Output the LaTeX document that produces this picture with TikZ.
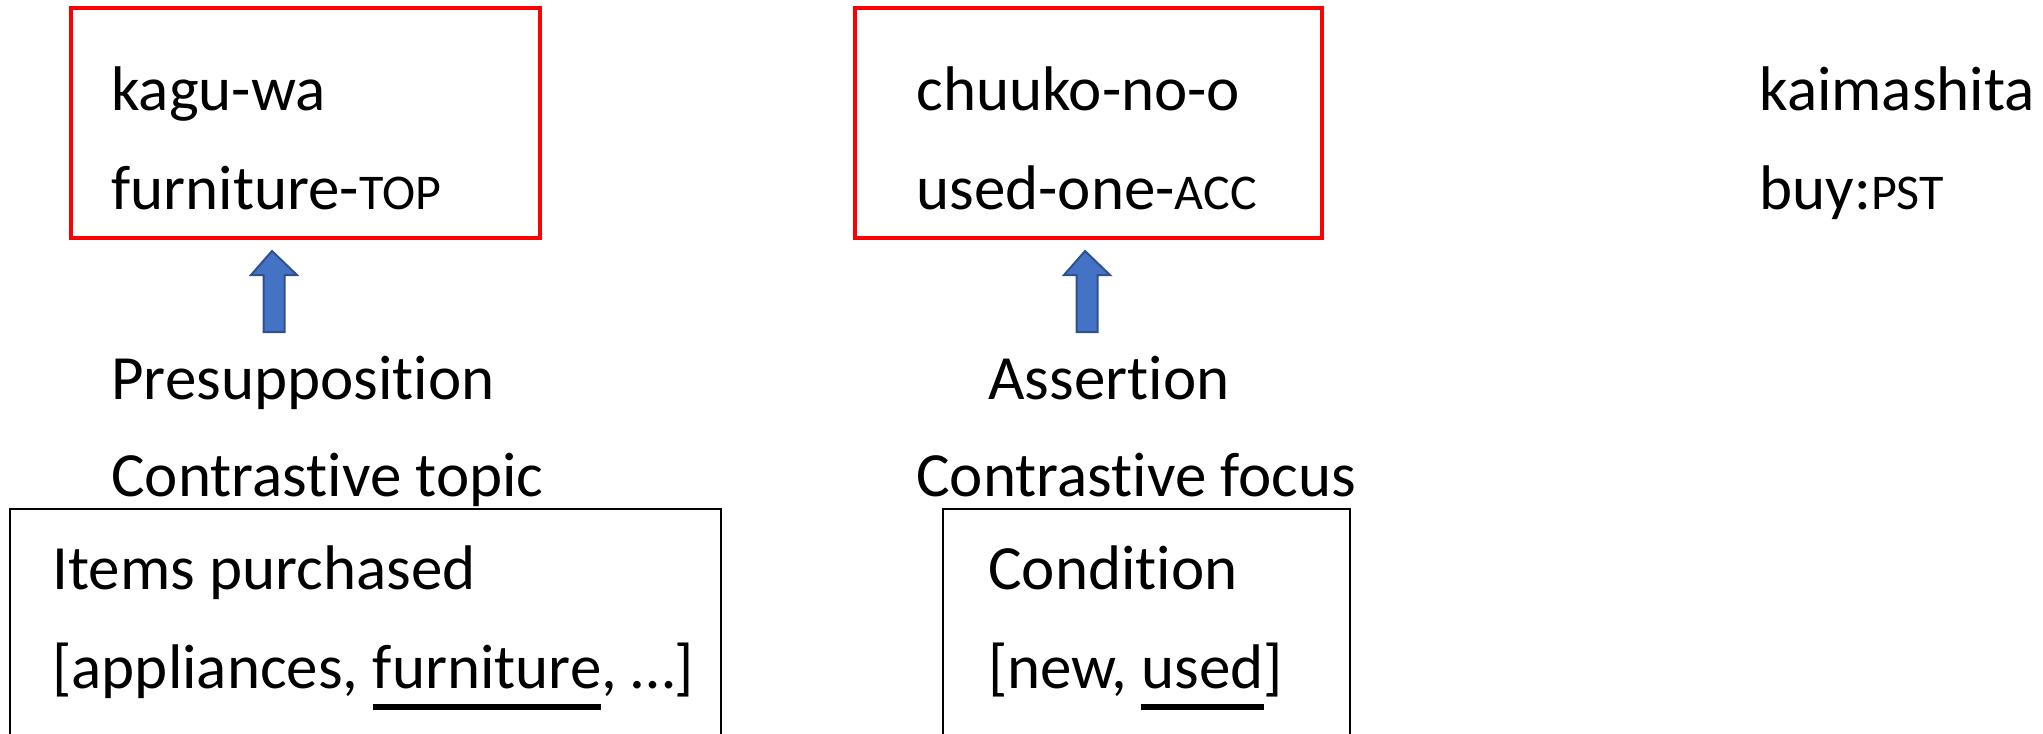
\documentclass[tikz,border=0pt]{standalone}
\usepackage{fontspec}
\setmainfont[Ligatures=NoCommon]{Carlito}
\definecolor{boxred}{RGB}{255,0,0}
\definecolor{arrowfill}{RGB}{68,114,196}
\definecolor{arrowedge}{RGB}{47,82,143}
% thick underline used to mark the chosen alternative
\newcommand{\pickul}[1]{\setbox0\hbox{#1}\rlap{\rule[-11pt]{\wd0}{3pt}}\box0}
% small capitals for glosses
\newcommand{\gl}[1]{{\fontsize{25}{30}\selectfont #1}}
\tikzset{
  txt/.style={anchor=base west, inner sep=0pt, font=\fontsize{31.5}{38}\selectfont},
  redframe/.style={draw=boxred, line width=2.2pt},
  blackframe/.style={draw=black, line width=1pt},
  uparrow/.style={fill=arrowfill, draw=arrowedge, line width=1pt, line join=miter}
}
\begin{document}
\begin{tikzpicture}[x=0.5pt, y=-0.5pt]
\useasboundingbox (0,0) rectangle (2043,733);
\clip (0,0) rectangle (2043,733);

% focus-structure frames
\node[redframe, minimum width=234.5pt, minimum height=115pt, anchor=north west, inner sep=0pt] (topicbox) at (69,6) {};
\node[redframe, minimum width=233.5pt, minimum height=115pt, anchor=north west, inner sep=0pt] (focusbox) at (853,6) {};

% glossed words
\node[txt] (w1) at (111,111) {kagu-wa};
\node[txt] (g1) at (111,209) {furniture-\gl{TOP}};
\node[txt] (w2) at (916,111) {chuuko-no-o};
\node[txt] (g2) at (916,209) {used-one-\gl{ACC}};
\node[txt] (w3) at (1759,111) {kaimashita};
\node[txt] (g3) at (1759,209) {buy:\gl{PST}};

% block arrows pointing up to the frames
\coordinate (a1) at (272,251);
\coordinate (a2) at (1085,251);
\foreach \c in {a1,a2}{
  \draw[uparrow] (\c) -- ++(25,24) -- ++(-12.5,0) -- ++(0,57) -- ++(-21,0) -- ++(0,-57) -- ++(-12.5,0) -- cycle;
}

% information-structure labels
\node[txt] (l1) at (111,399) {Presupposition};
\node[txt] (l2) at (111,496) {Contrastive topic};
\node[txt] (l3) at (988,399) {Assertion};
\node[txt] (l4) at (916,496) {Contrastive focus};

% alternative sets
\node[blackframe, minimum width=355.5pt, minimum height=120pt, anchor=north west, inner sep=0pt] (altset1) at (9,508) {};
\node[blackframe, minimum width=203.5pt, minimum height=120pt, anchor=north west, inner sep=0pt] (altset2) at (942,508) {};
\node[txt] (s1) at (52,589) {Items purchased};
\node[txt] (s2) at (52,688) {[appliances, \pickul{furniture}, …]};
\node[txt] (s3) at (988,589) {Condition};
\node[txt] (s4) at (988,688) {[new, \pickul{used}]};
\end{tikzpicture}
\end{document}
